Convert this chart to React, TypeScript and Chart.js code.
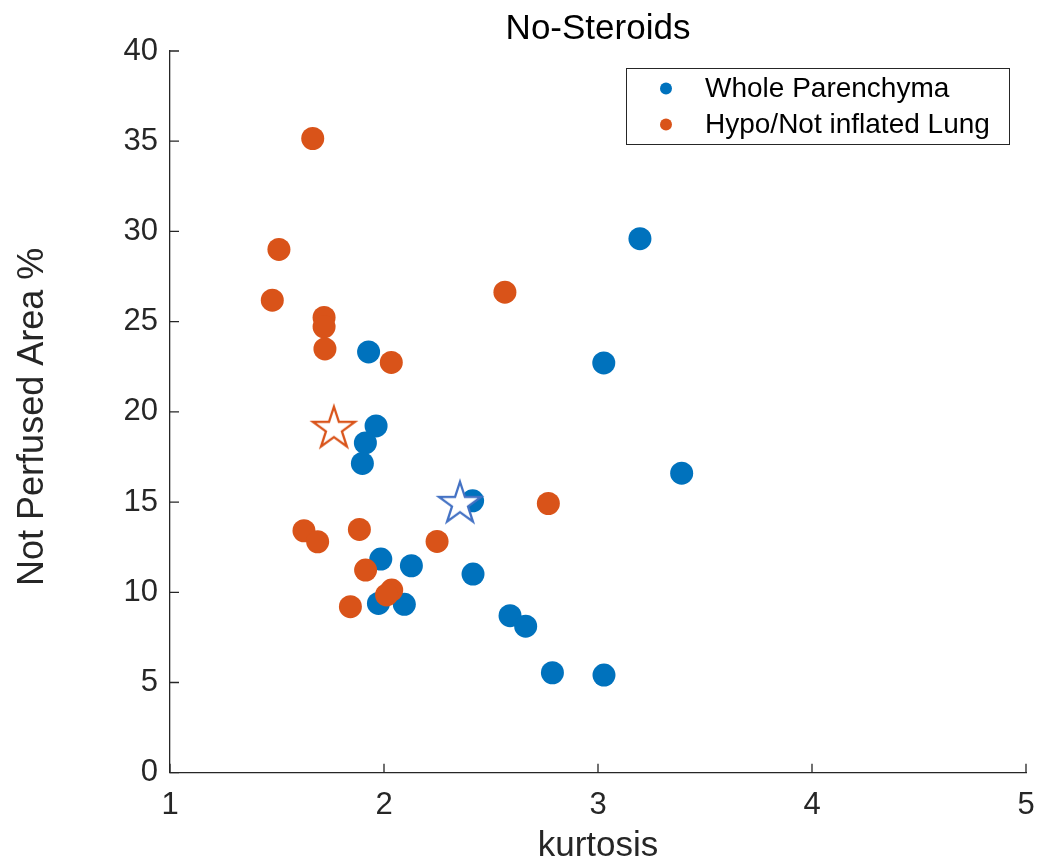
import React, { useEffect, useRef } from "react";
import { Chart, registerables } from "chart.js";

Chart.register(...registerables);

const titleText = "No-Steroids";
const xLabel = "kurtosis";
const yLabel = "Not Perfused Area % ";
const seriesNames = ["Whole Parenchyma", "Hypo/Not inflated Lung"];

const wholeX = [3.196, 3.027, 3.391, 1.928, 1.963, 1.913, 1.899, 2.414, 1.985, 2.128, 2.416, 1.974, 2.095, 2.589, 2.662, 2.787, 3.028];
const wholeY = [29.6, 22.71, 16.6, 23.32, 19.22, 18.28, 17.14, 15.07, 11.84, 11.47, 11.01, 9.38, 9.33, 8.7, 8.12, 5.54, 5.41];

const hypoX = [1.667, 1.509, 1.478, 1.72, 1.72, 1.724, 2.034, 2.565, 2.768, 1.626, 1.69, 1.885, 2.248, 1.914, 2.036, 2.012, 1.843];
const hypoY = [35.15, 29.0, 26.19, 25.23, 24.71, 23.49, 22.74, 26.63, 14.92, 13.41, 12.8, 13.48, 12.82, 11.23, 10.12, 9.85, 9.2];

const wholeStar = [2.355, 14.96];
const hypoStar = [1.766, 19.12];

const xTicks = [1, 2, 3, 4, 5];
const yTicks = [0, 5, 10, 15, 20, 25, 30, 35, 40];

const BLUE = "#0072BD";
const ORANGE = "#D95319";
const STAR_BLUE = "#4472C4";
const AXIS = "#262626";
const FONT = "'Liberation Sans', Arial, Helvetica, sans-serif";

function makeStar(color: string): HTMLCanvasElement {
  const R = 22;
  const r = R * 0.382;
  const size = 2 * (R + 3);
  const c = document.createElement("canvas");
  c.width = size;
  c.height = size;
  const ctx = c.getContext("2d")!;
  const cx = size / 2;
  const cy = size / 2 + 1;
  ctx.beginPath();
  for (let i = 0; i < 10; i++) {
    const rad = i % 2 === 0 ? R : r;
    const a = -Math.PI / 2 + (i * Math.PI) / 5;
    const px = cx + rad * Math.cos(a);
    const py = cy + rad * Math.sin(a);
    if (i === 0) ctx.moveTo(px, py);
    else ctx.lineTo(px, py);
  }
  ctx.closePath();
  ctx.fillStyle = "#ffffff";
  ctx.fill();
  ctx.lineWidth = 2.3;
  ctx.strokeStyle = color;
  ctx.lineJoin = "miter";
  ctx.stroke();
  return c;
}

const decorPlugin = {
  id: "decor",
  afterDraw(chart: any) {
    const { ctx, chartArea, scales } = chart;
    const xs = scales.x;
    const ys = scales.y;
    ctx.save();
    ctx.strokeStyle = AXIS;
    ctx.lineWidth = 1.3;
    ctx.beginPath();
    for (const v of xTicks) {
      const px = xs.getPixelForValue(v);
      ctx.moveTo(px, chartArea.bottom);
      ctx.lineTo(px, chartArea.bottom - 9);
    }
    for (const v of yTicks) {
      const py = ys.getPixelForValue(v);
      ctx.moveTo(chartArea.left, py);
      ctx.lineTo(chartArea.left + 9, py);
    }
    ctx.stroke();

    // legend
    const lx = 626, ly = 68, lw = 383, lh = 76;
    ctx.fillStyle = "#ffffff";
    ctx.fillRect(lx, ly, lw, lh);
    ctx.lineWidth = 1;
    ctx.strokeStyle = AXIS;
    ctx.strokeRect(lx + 0.5, ly + 0.5, lw, lh);
    const colors = [BLUE, ORANGE];
    const rowsY = [88.5, 124.5];
    ctx.font = `28px ${FONT}`;
    ctx.textBaseline = "middle";
    ctx.textAlign = "left";
    for (let i = 0; i < 2; i++) {
      ctx.beginPath();
      ctx.arc(666, rowsY[i], 6, 0, Math.PI * 2);
      ctx.fillStyle = colors[i];
      ctx.fill();
      ctx.fillStyle = "#000000";
      ctx.fillText(seriesNames[i], 705, rowsY[i] + 1);
    }
    ctx.restore();
  },
};

export default function App() {
  const ref = useRef<HTMLCanvasElement | null>(null);
  useEffect(() => {
    if (!ref.current) return;
    Chart.defaults.font.family = FONT;
    const blueStar = makeStar(STAR_BLUE);
    const orangeStar = makeStar(ORANGE);
    const chart = new Chart(ref.current, {
      type: "scatter",
      data: {
        datasets: [
          {
            label: seriesNames[0],
            data: wholeX.map((x, i) => ({ x, y: wholeY[i] })),
            backgroundColor: BLUE,
            pointRadius: 11.5,
            pointBorderWidth: 0,
            order: 4,
          },
          {
            label: seriesNames[1],
            data: hypoX.map((x, i) => ({ x, y: hypoY[i] })),
            backgroundColor: ORANGE,
            pointRadius: 11.5,
            pointBorderWidth: 0,
            order: 3,
          },
          {
            label: seriesNames[0] + " median",
            data: [{ x: wholeStar[0], y: wholeStar[1] }],
            pointStyle: blueStar as any,
            order: 2,
          },
          {
            label: seriesNames[1] + " median",
            data: [{ x: hypoStar[0], y: hypoStar[1] }],
            pointStyle: orangeStar as any,
            order: 1,
          },
        ],
      },
      options: {
        animation: false,
        responsive: true,
        maintainAspectRatio: false,
        layout: { padding: { left: 0, right: 17, top: 0, bottom: 0 } },
        plugins: {
          legend: { display: false },
          tooltip: { enabled: false },
          title: {
            display: true,
            fullSize: false,
            text: titleText,
            color: "#000000",
            font: { size: 35, weight: "normal", family: FONT },
            padding: { top: 8, bottom: 1 },
          },
        },
        scales: {
          x: {
            type: "linear",
            min: 1,
            max: 5,
            afterBuildTicks: (s: any) => {
              s.ticks = xTicks.map((v) => ({ value: v }));
            },
            afterFit: (s: any) => {
              s.height = 92.3;
              s.paddingLeft = 0;
              s.paddingRight = 0;
            },
            grid: { display: false, drawTicks: false },
            border: { display: true, color: AXIS, width: 1.3 },
            ticks: {
              color: AXIS,
              font: { size: 31, family: FONT },
              padding: 14.5,
              maxRotation: 0,
            },
            title: {
              display: true,
              text: xLabel,
              color: AXIS,
              font: { size: 35, family: FONT },
              padding: { top: 0, bottom: -2 },
            },
          },
          y: {
            type: "linear",
            min: 0,
            max: 40,
            afterBuildTicks: (s: any) => {
              s.ticks = yTicks.map((v) => ({ value: v }));
            },
            afterFit: (s: any) => {
              s.width = 170;
              s.paddingTop = 0;
              s.paddingBottom = 0;
            },
            grid: { display: false, drawTicks: false },
            border: { display: true, color: AXIS, width: 1.3 },
            ticks: {
              color: AXIS,
              font: { size: 31, family: FONT },
              padding: 12,
            },
            title: {
              display: true,
              text: yLabel,
              color: AXIS,
              font: { size: 36, family: FONT },
              padding: { top: 11, bottom: 0 },
            },
          },
        },
      },
      plugins: [decorPlugin],
    });
    return () => chart.destroy();
  }, []);
  return (
    <div style={{ position: "absolute", left: 0, top: 0, width: 1043, height: 865, background: "#fff" }}>
      <canvas ref={ref} />
    </div>
  );
}
